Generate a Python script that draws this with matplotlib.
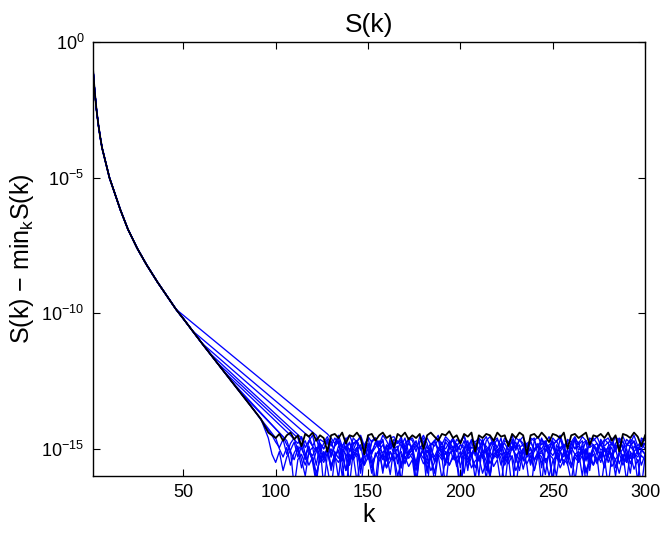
import matplotlib

matplotlib.use("Agg")
import matplotlib.pyplot as plt
import numpy as np
from matplotlib.ticker import NullLocator

plt.rcParams["font.family"] = ["Liberation Sans", "DejaVu Sans"]
plt.rcParams["mathtext.fontset"] = "custom"
plt.rcParams["mathtext.rm"] = "Liberation Sans"
plt.rcParams["mathtext.it"] = "Liberation Sans"
plt.rcParams["mathtext.default"] = "regular"

# shared decay, log10 of S(k) - min S(k)
MAIN_K = [1, 2, 3, 4, 5, 6, 8, 10, 13, 16, 20, 25, 30, 36, 42, 46, 50, 55,
	60, 64, 68, 72, 76, 80, 84, 88, 92]
MAIN_LOG = [-0.9, -1.8, -2.5, -3.05, -3.5, -3.9, -4.45, -5.0, -5.6, -6.2, -6.9,
	-7.6, -8.2, -8.85, -9.45, -9.85, -10.2, -10.65, -11.1, -11.45, -11.8,
	-12.15, -12.5, -12.85, -13.2, -13.55, -13.9]

FLOOR_STEP = 2

# black run: leaves the decay at k=92, noise floor from k=96
BLACK_DEPART = 92
BLACK_ARRIVE = 96
BLACK_FLOOR = [
	-14.4, -14.5, -14.6, -14.45, -14.7, -14.5, -14.4, -14.65, -14.5, -14.9,
	-14.45, -14.55, -14.4, -14.7, -14.5, -14.6, -15.1, -14.5, -14.45, -14.6,
	-14.4, -14.8, -14.5, -14.55, -14.4, -14.6, -15.2, -14.5, -14.45, -14.7,
	-14.5, -14.4, -14.6, -14.5, -14.95, -14.45, -14.55, -14.4, -14.65, -14.5,
	-14.6, -14.45, -15.0, -14.5, -14.4, -14.55, -14.7, -14.45, -14.5, -14.35,
	-14.6, -14.5, -14.8, -14.45, -14.55, -14.4, -15.1, -14.5, -14.6, -14.45,
	-14.5, -14.7, -14.4, -14.55, -14.5, -14.9, -14.45, -14.6, -14.4, -14.5,
	-15.2, -14.5, -14.45, -14.6, -14.4, -14.55, -14.75, -14.45, -14.5, -14.6,
	-14.4, -15.0, -14.5, -14.45, -14.6, -14.5, -14.4, -14.85, -14.5, -14.55,
	-14.45, -14.6, -14.4, -14.7, -14.5, -15.1, -14.45, -14.5, -14.6, -14.4,
	-14.55, -14.9, -14.5,
]

# blue runs: k where each leaves the decay, k where it hits the floor
BLUE_DEPART = [46, 55, 60, 64, 68, 72, 76, 80, 84, 88, 92]
BLUE_ARRIVE = [128, 122, 118, 114, 112, 108, 106, 104, 100, 98, 96]

BLUE_1 = [
	-14.45, -14.6, -14.8, -14.5, -14.9, -14.7, -15.1, -14.6, -14.75, -14.5,
	-14.9, -15.3, -14.7, -14.6, -14.85, -14.5, -14.7, -15.0, -14.65, -14.8,
	-14.55, -15.2, -14.7, -14.6, -14.9, -14.75, -14.5, -14.8, -15.4, -14.7,
	-14.6, -14.85, -14.55, -14.7, -15.0, -14.65, -14.8, -14.5, -14.9, -14.7,
	-15.25, -14.6, -14.75, -14.55, -14.9, -14.7, -14.6, -15.1, -14.7, -14.8,
	-14.5, -14.95, -14.65, -14.8, -15.3, -14.6, -14.7, -14.55, -14.85, -14.7,
	-15.0, -14.6, -14.75, -14.5, -14.9, -14.7, -15.2, -14.65, -14.8, -14.55,
	-14.7, -14.95, -14.6, -14.8, -15.35, -14.7, -14.6, -14.85, -14.55, -14.7,
	-15.0, -14.65, -14.8, -14.5, -14.9, -14.7, -14.6,
]
BLUE_2 = [
	-14.5, -14.8, -15.0, -14.7, -15.3, -14.85, -14.6, -15.1, -14.9, -15.6,
	-14.8, -14.7, -15.0, -14.9, -15.4, -14.75, -14.6, -15.05, -14.85, -15.2,
	-14.7, -15.0, -14.9, -15.7, -14.8, -14.65, -15.1, -14.9, -15.0, -14.75,
	-15.35, -14.85, -14.7, -15.0, -14.9, -15.5, -14.8, -14.7, -15.1, -14.85,
	-15.0, -14.7, -15.25, -14.9, -14.75, -15.0, -15.8, -14.85, -14.7, -15.05,
	-14.9, -15.2, -14.75, -14.65, -15.0, -14.85, -15.45, -14.8, -14.7, -15.1,
	-14.9, -15.0, -14.75, -15.3, -14.85, -14.7, -15.0, -14.9, -15.6, -14.8,
	-14.65, -15.05, -14.9, -15.2, -14.75, -14.85, -15.0, -14.7, -15.35, -14.9,
	-14.8, -15.1, -14.7, -14.9, -15.5, -14.85, -14.75, -15.0, -14.9, -14.8,
]
BLUE_3 = [
	-14.55, -14.9, -15.1, -14.8, -15.4, -15.0, -14.7, -15.2, -16.1, -14.9,
	-15.0, -14.75, -15.3, -15.05, -14.85, -15.6, -14.9, -15.1, -14.8, -15.0,
	-15.9, -14.95, -14.8, -15.2, -15.0, -14.7, -15.35, -15.1, -14.9, -16.3,
	-15.0, -14.8, -15.15, -14.9, -15.5, -15.0, -14.75, -15.2, -14.95, -15.05,
	-14.8, -15.7, -15.0, -14.9, -15.3, -14.85, -15.1, -14.7, -15.0, -16.0,
	-14.9, -15.15, -14.8, -15.0, -15.4, -14.95, -14.75, -15.2, -15.0, -14.85,
	-15.6, -15.05, -14.8, -15.1, -14.9, -15.0, -16.2, -14.85, -15.1, -14.9,
	-15.3, -14.8, -15.0, -14.75, -15.2, -15.0, -15.8, -14.9, -15.05, -14.8,
	-15.1, -14.95, -15.4, -14.85, -15.0, -14.7, -15.2, -15.9, -14.9, -15.05,
	-14.8, -15.0,
]
BLUE_4 = [
	-14.6, -15.2, -15.6, -15.3, -15.9, -15.4, -15.1, -15.7, -16.5, -15.3,
	-15.5, -15.2, -15.8, -15.45, -15.25, -16.2, -15.4, -15.6, -15.3, -15.5,
	-16.7, -15.35, -15.2, -15.7, -15.45, -15.25, -16.0, -15.5, -15.3, -15.65,
	-15.4, -16.4, -15.2, -15.55, -15.35, -15.8, -15.5, -15.25, -16.1, -15.4,
	-15.6, -15.3, -15.5, -16.6, -15.35, -15.25, -15.7, -15.45, -15.3, -15.9,
	-15.5, -15.2, -15.65, -15.4, -16.3, -15.3, -15.55, -15.25, -15.8, -15.45,
	-15.3, -15.6, -16.7, -15.4, -15.2, -15.5, -15.35, -16.0, -15.45, -15.25,
	-15.7, -15.4, -15.55, -16.2, -15.3, -15.5, -15.25, -15.8, -15.4, -15.6,
	-15.3, -16.5, -15.45, -15.25, -15.65, -15.4, -15.9, -15.3, -15.5, -15.2,
	-15.75, -15.4, -16.4, -15.3,
]
BLUE_5 = [
	-14.6, -15.0, -15.3, -14.9, -15.5, -15.1, -14.85, -16.4, -15.2, -15.0,
	-15.4, -14.9, -15.1, -15.8, -15.0, -15.25, -14.95, -15.5, -15.1, -14.85,
	-15.3, -16.2, -15.0, -15.15, -14.9, -15.4, -15.1, -15.0, -15.7, -14.95,
	-15.2, -15.05, -15.5, -14.9, -15.1, -16.5, -15.0, -15.3, -14.95, -15.15,
	-15.6, -15.0, -14.9, -15.35, -15.1, -15.9, -15.0, -15.2, -14.9, -15.4,
	-15.05, -15.15, -16.1, -14.95, -15.3, -15.0, -15.5, -15.1, -14.9, -15.25,
	-15.8, -15.0, -15.15, -14.95, -15.4, -15.1, -16.3, -15.0, -15.2, -14.9,
	-15.35, -15.05, -15.6, -15.0, -14.95, -15.2, -15.1, -16.0, -15.0, -15.3,
	-14.9, -15.15, -15.5, -15.0, -15.1, -14.95, -15.7, -15.2, -15.0, -15.35,
	-14.9, -15.1, -16.2, -15.0, -15.2,
]
BLUE_6 = [
	-14.5, -14.65, -14.8, -14.55, -14.95, -14.7, -14.5, -15.1, -14.65, -14.75,
	-14.55, -14.9, -14.6, -14.8, -15.3, -14.65, -14.5, -14.85, -14.7, -14.6,
	-15.0, -14.55, -14.75, -14.6, -14.9, -14.7, -15.4, -14.6, -14.55, -14.8,
	-14.65, -14.95, -14.6, -14.7, -15.1, -14.55, -14.75, -14.6, -14.85, -14.7,
	-14.5, -15.2, -14.65, -14.8, -14.6, -14.9, -14.7, -14.55, -15.0, -14.65,
	-14.75, -14.6, -15.35, -14.7, -14.55, -14.85, -14.65, -14.9, -14.6, -14.75,
	-15.05, -14.6, -14.7, -14.55, -14.95, -14.7, -14.6, -15.25, -14.65, -14.8,
	-14.55, -14.9, -14.7, -14.6, -15.1, -14.65, -14.75, -14.55, -14.85, -14.7,
	-15.45, -14.6, -14.7, -14.55, -14.9, -14.65, -14.8, -14.6, -15.0, -14.7,
	-14.55, -14.85, -14.65, -14.75, -15.2, -14.6, -14.7,
]
BLUE_7 = [
	-14.7, -15.1, -15.4, -15.0, -15.7, -15.2, -14.95, -15.5, -16.3, -15.1,
	-15.3, -15.0, -15.6, -15.25, -15.05, -16.0, -15.2, -15.4, -15.1, -15.3,
	-16.6, -15.15, -15.0, -15.5, -15.25, -15.05, -15.8, -15.3, -15.1, -15.45,
	-15.2, -16.2, -15.0, -15.35, -15.15, -15.6, -15.3, -15.05, -15.9, -15.2,
	-15.4, -15.1, -15.3, -16.4, -15.15, -15.05, -15.5, -15.25, -15.1, -15.7,
	-15.3, -15.0, -15.45, -15.2, -16.1, -15.1, -15.35, -15.05, -15.6, -15.25,
	-15.1, -15.4, -16.5, -15.2, -15.0, -15.3, -15.15, -15.8, -15.25, -15.05,
	-15.5, -15.2, -15.35, -16.0, -15.1, -15.3, -15.05, -15.6, -15.2, -15.4,
	-15.1, -16.3, -15.25, -15.05, -15.45, -15.2, -15.7, -15.1, -15.3, -15.0,
	-15.55, -15.2, -16.2, -15.1, -15.35, -15.05, -15.6, -15.2,
]
BLUE_8 = [
	-14.55, -14.85, -15.05, -14.75, -15.3, -14.9, -14.7, -15.1, -14.95, -15.6,
	-14.8, -15.0, -14.7, -15.2, -14.9, -14.75, -15.45, -14.95, -14.8, -15.05,
	-14.7, -15.9, -14.9, -14.8, -15.15, -14.95, -14.7, -15.3, -14.85, -15.0,
	-14.75, -15.55, -14.9, -15.05, -14.8, -15.0, -14.7, -15.25, -14.95, -15.8,
	-14.85, -14.7, -15.1, -14.9, -15.0, -14.75, -15.4, -14.85, -15.05, -14.7,
	-15.2, -14.95, -15.0, -16.0, -14.8, -14.9, -15.1, -14.75, -15.3, -14.9,
	-14.8, -15.05, -14.7, -15.5, -14.95, -14.85, -15.15, -14.75, -15.0, -14.9,
	-15.7, -14.8, -15.05, -14.7, -15.2, -14.95, -14.85, -15.35, -14.75, -15.0,
	-14.9, -15.1, -14.7, -15.6, -14.9, -14.8, -15.05, -14.95, -15.25, -14.75,
	-15.0, -14.85, -15.45, -14.9, -14.7, -15.1, -14.95, -15.0, -14.8,
]
BLUE_9 = [
	-14.6, -15.0, -15.3, -14.95, -15.6, -15.15, -14.9, -15.4, -16.0, -15.1,
	-15.25, -14.95, -15.5, -15.2, -15.0, -15.8, -15.1, -15.35, -15.0, -15.2,
	-16.3, -15.1, -14.95, -15.45, -15.2, -15.0, -15.7, -15.25, -15.05, -15.4,
	-15.15, -15.95, -14.95, -15.3, -15.1, -15.55, -15.2, -15.0, -16.2, -15.15,
	-15.35, -15.05, -15.25, -15.9, -15.1, -15.0, -15.45, -15.2, -15.05, -15.65,
	-15.25, -14.95, -15.4, -15.15, -16.1, -15.05, -15.3, -15.0, -15.55, -15.2,
	-15.05, -15.35, -16.4, -15.15, -14.95, -15.25, -15.1, -15.75, -15.2, -15.0,
	-15.45, -15.15, -15.3, -15.95, -15.05, -15.25, -15.0, -15.5, -15.15, -15.35,
	-15.05, -16.2, -15.2, -15.0, -15.4, -15.15, -15.6, -15.05, -15.25, -14.95,
	-15.5, -15.15, -16.0, -15.05, -15.3, -15.0, -15.55, -15.15, -15.3, -15.05,
	-15.2,
]
BLUE_10 = [
	-14.5, -14.75, -14.95, -14.65, -15.2, -14.8, -14.6, -15.05, -14.85, -15.4,
	-14.7, -14.9, -14.6, -15.1, -14.8, -14.65, -15.3, -14.85, -14.7, -14.95,
	-14.6, -15.6, -14.8, -14.7, -15.05, -14.85, -14.6, -15.2, -14.75, -14.9,
	-14.65, -15.45, -14.8, -14.95, -14.7, -14.9, -14.6, -15.15, -14.85, -15.7,
	-14.75, -14.6, -15.0, -14.8, -14.9, -14.65, -15.3, -14.75, -14.95, -14.6,
	-15.1, -14.85, -14.9, -15.8, -14.7, -14.8, -15.0, -14.65, -15.2, -14.8,
	-14.7, -14.95, -14.6, -15.4, -14.85, -14.75, -15.05, -14.65, -14.9, -14.8,
	-15.55, -14.7, -14.95, -14.6, -15.1, -14.85, -14.75, -15.25, -14.65, -14.9,
	-14.8, -15.0, -14.6, -15.5, -14.8, -14.7, -14.95, -14.85, -15.15, -14.65,
	-14.9, -14.75, -15.35, -14.8, -14.6, -15.0, -14.85, -14.9, -14.7, -15.05,
	-14.75, -14.85,
]
BLUE_11 = [
	-14.6, -15.2, -15.5, -15.1, -15.8, -15.3, -15.05, -16.4, -15.4, -15.2,
	-15.6, -15.15, -15.35, -16.1, -15.25, -15.5, -15.15, -15.7, -15.3, -15.05,
	-15.5, -16.6, -15.2, -15.4, -15.15, -15.65, -15.3, -15.2, -15.9, -15.15,
	-15.45, -15.25, -15.7, -15.1, -15.35, -16.5, -15.2, -15.5, -15.15, -15.35,
	-15.8, -15.2, -15.1, -15.55, -15.3, -16.2, -15.2, -15.4, -15.1, -15.6,
	-15.25, -15.35, -16.3, -15.15, -15.5, -15.2, -15.7, -15.3, -15.1, -15.45,
	-16.0, -15.2, -15.35, -15.15, -15.6, -15.3, -16.5, -15.2, -15.4, -15.1,
	-15.55, -15.25, -15.8, -15.2, -15.15, -15.4, -15.3, -16.2, -15.2, -15.5,
	-15.1, -15.35, -15.7, -15.2, -15.3, -15.15, -15.9, -15.4, -15.2, -15.55,
	-15.1, -15.3, -16.4, -15.2, -15.4, -15.15, -15.6, -15.25, -15.35, -15.1,
	-15.5, -15.25, -15.4,
]
BLUE_FLOORS = [BLUE_1, BLUE_2, BLUE_3, BLUE_4, BLUE_5, BLUE_6, BLUE_7, BLUE_8,
	BLUE_9, BLUE_10, BLUE_11]

X_TICKS = [50, 100, 150, 200, 250, 300]
Y_TICKS = [1e-15, 1e-10, 1e-5, 1e0]


def _trace(depart_k, arrive_k, floor_log):
	# decay up to the departure knot, then the noise floor every FLOOR_STEP
	cut = MAIN_K.index(depart_k) + 1
	floor_k = [arrive_k + FLOOR_STEP * i for i in range(len(floor_log))]
	k = np.array(MAIN_K[:cut] + floor_k)
	s = 10.0 ** np.array(MAIN_LOG[:cut] + floor_log)
	return k, s


def plot_decay(output="out.png"):
	fig = plt.figure(figsize=(6.63, 5.33), dpi=100)
	ax = fig.add_axes([0.140, 0.107, 0.833, 0.814])

	for depart, arrive, floor in zip(BLUE_DEPART, BLUE_ARRIVE, BLUE_FLOORS):
		k, s = _trace(depart, arrive, floor)
		ax.semilogy(k, s, color="#0000ff", linewidth=0.95)

	k, s = _trace(BLACK_DEPART, BLACK_ARRIVE, BLACK_FLOOR)
	ax.semilogy(k, s, color="black", linewidth=1.3)

	ax.set_xlim(1, 300)
	ax.set_ylim(1e-16, 1e0)
	ax.set_xticks(X_TICKS)
	ax.set_yticks(Y_TICKS)
	ax.yaxis.set_minor_locator(NullLocator())
	ax.tick_params(direction="in", top=True, right=True, length=5, width=0.8,
		labelsize=13, pad=6)
	for spine in ax.spines.values():
		spine.set_linewidth(1.0)

	ax.set_xlabel("k", fontsize=18, labelpad=1)
	ax.set_ylabel("S(k) \u2212 min$_k$S(k)", fontsize=18, labelpad=4)
	ax.set_title("S(k)", fontsize=19, pad=7)

	fig.savefig(output, dpi=100)
	plt.close(fig)


if __name__ == "__main__":
	plot_decay("out.png")
